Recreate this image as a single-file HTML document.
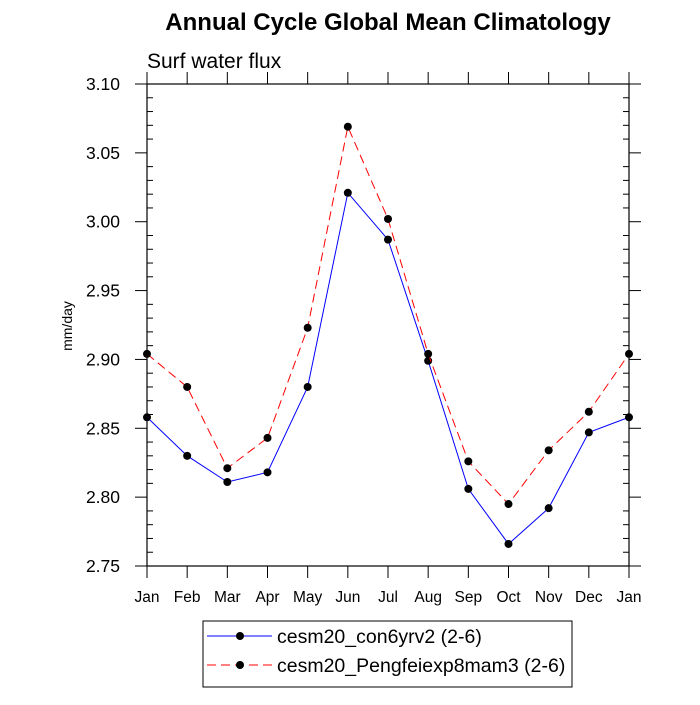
<!DOCTYPE html>
<html><head><meta charset="utf-8"><style>
body{margin:0;background:#fff;}
svg text{font-family:"Liberation Sans",Helvetica,Arial,sans-serif;}
</style></head><body>
<svg width="700" height="700" viewBox="0 0 700 700" xmlns="http://www.w3.org/2000/svg">
<text x="388" y="30" font-size="24" font-weight="bold" text-anchor="middle">Annual Cycle Global Mean Climatology</text>
<text x="147" y="68" font-size="21">Surf water flux</text>
<text transform="translate(72,326) rotate(-90)" font-size="14" text-anchor="middle">mm/day</text>
<g id="axes"></g>
<g id="series"></g>
<g>
<rect x="203" y="621" width="369" height="66" fill="#fff" stroke="#000" stroke-width="1"/>
<g>
<line x1="207" y1="636" x2="272" y2="636" stroke="#0000ff" stroke-width="1"/>
<circle cx="240" cy="636" r="4" fill="#000"/>
<text x="277" y="643" font-size="19.5">cesm20_con6yrv2 (2-6)</text>
</g>
<g>
<line x1="207" y1="665" x2="272" y2="665" stroke="#ff0000" stroke-width="1" stroke-dasharray="9,5"/>
<circle cx="240" cy="665" r="4" fill="#000"/>
<text x="277" y="672" font-size="19.5">cesm20_Pengfeiexp8mam3 (2-6)</text>
</g>
</g>
</svg>
<script>
const months = ["Jan","Feb","Mar","Apr","May","Jun","Jul","Aug","Sep","Oct","Nov","Dec","Jan"];
const controlValues = [2.858,2.830,2.811,2.818,2.880,3.021,2.987,2.899,2.806,2.766,2.792,2.847,2.858];
const expValues = [2.904,2.880,2.821,2.843,2.923,3.069,3.002,2.904,2.826,2.795,2.834,2.862,2.904];
const yTicks = ["2.75","2.80","2.85","2.90","2.95","3.00","3.05","3.10"];
const L=147,R=629,T=84,B=566,YMIN=2.75,YMAX=3.10;
const NS="http://www.w3.org/2000/svg";
function xs(i){return L+(R-L)*i/(months.length-1);}
function ys(v){return B-(v-YMIN)/(YMAX-YMIN)*(B-T);}
function mk(tag,attrs,parent){const e=document.createElementNS(NS,tag);for(const k in attrs)e.setAttribute(k,attrs[k]);parent.appendChild(e);return e;}
const ax=document.getElementById('axes');
const frame=mk('rect',{x:L,y:T,width:R-L,height:B-T,fill:'none',stroke:'#000','stroke-width':1.2},ax);


const tc='#000';
months.forEach((m,i)=>{
  const x=xs(i);
  mk('line',{x1:x,y1:B,x2:x,y2:B+12,stroke:tc},ax);
  mk('line',{x1:x,y1:T,x2:x,y2:T-12,stroke:tc},ax);
  const t=mk('text',{x:x,y:B+36,'font-size':15.5,'text-anchor':'middle'},ax);
  t.textContent=m;
  
  
});
yTicks.forEach((s)=>{
  const y=ys(parseFloat(s));
  mk('line',{x1:L-12,y1:y,x2:L,y2:y,stroke:tc},ax);
  mk('line',{x1:R,y1:y,x2:R+12,y2:y,stroke:tc},ax);
  const t=mk('text',{x:L-27,y:y+6,'font-size':17.5,'text-anchor':'end'},ax);
  t.textContent=s;
  
  
});
for(let k=1;k<35;k++){ if(k%5===0)continue;
  const y=ys(YMIN+k*0.01);
  mk('line',{x1:L,y1:y,x2:L+6,y2:y,stroke:tc},ax);
  mk('line',{x1:R-6,y1:y,x2:R,y2:y,stroke:tc},ax);
}
const sg=document.getElementById('series');
function draw(vals,color,dash,name){
  const g=mk('g',{},sg);
  
  
  const pts=vals.map((v,i)=>xs(i)+','+ys(v)).join(' ');
  const a={points:pts,fill:'none',stroke:color,'stroke-width':1};
  if(dash)a['stroke-dasharray']=dash;
  mk('polyline',a,g);
  vals.forEach((v,i)=>{
    const c=mk('circle',{cx:xs(i),cy:ys(v),r:4,fill:'#000'},g);
    
    
  });
}
draw(controlValues,'#0000ff',null,'series-control');
draw(expValues,'#ff0000','9,5','series-experiment');
</script>
</body></html>
